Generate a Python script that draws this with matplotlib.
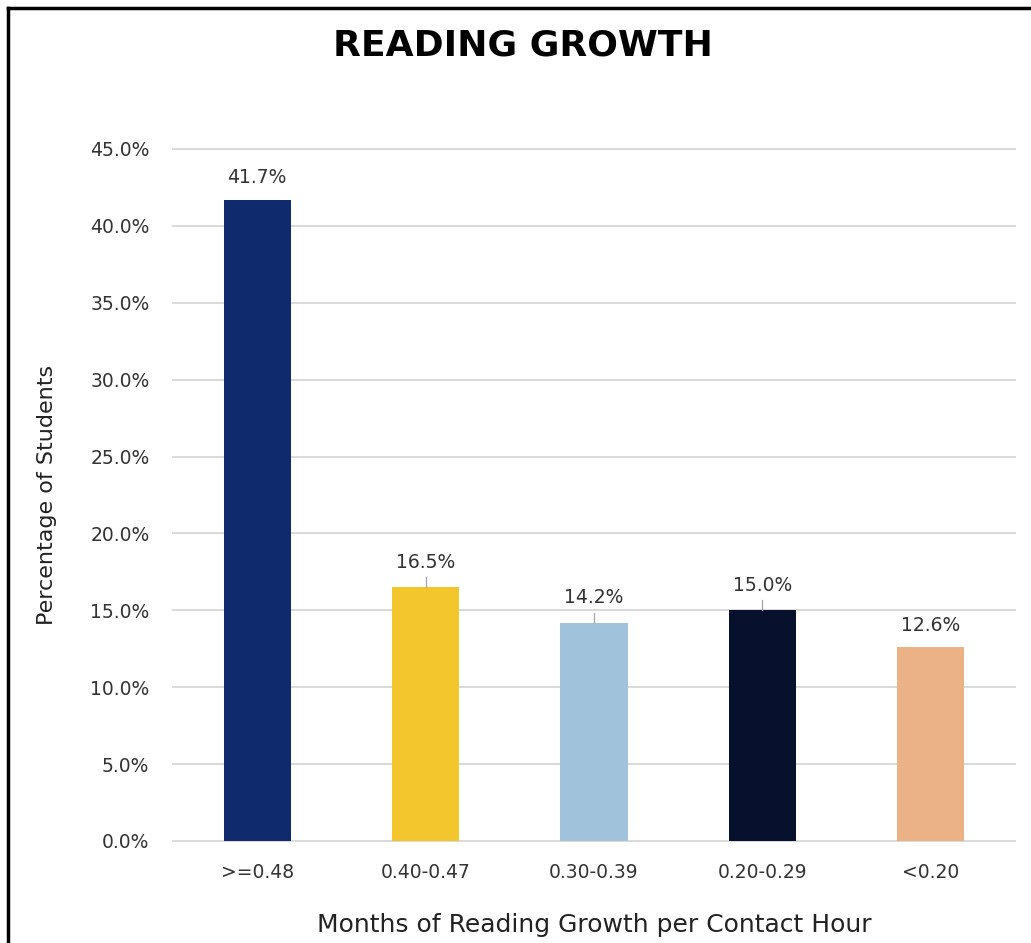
import matplotlib
matplotlib.use("Agg")
import matplotlib.pyplot as plt
from matplotlib.lines import Line2D
from matplotlib.ticker import FuncFormatter

plt.rcParams["font.family"] = ["DejaVu Sans"]

# growth bands and share of students in each
categories = [">=0.48", "0.40-0.47", "0.30-0.39", "0.20-0.29", "<0.20"]
percents = [41.7, 16.5, 14.2, 15.0, 12.6]
colors = ["#102A6E", "#F4C62D", "#A0C3DB", "#07102D", "#EBB286"]
leader = [False, True, True, True, False]

W, H = 1031, 943
fig = plt.figure(figsize=(W / 100, H / 100), dpi=100)
ax = fig.add_axes([173 / W, (H - 841) / H, (1015 - 173) / W, (841 - 149) / H])

x = range(len(categories))
ax.bar(x, percents, width=0.40, color=colors, zorder=3)
ax.set_xlim(-0.5, len(categories) - 0.5)
ax.set_ylim(0, 45)
ax.set_yticks([i * 5 for i in range(10)])
ax.yaxis.set_major_formatter(FuncFormatter(lambda v, _: f"{v:.1f}%"))
ax.set_xticks(list(x))
ax.set_xticklabels(categories)
ax.tick_params(length=0, labelsize=13.5, colors="#333333")
ax.tick_params(axis="y", pad=17)
ax.tick_params(axis="x", pad=16)
ax.grid(axis="y", color="#D9D9D9", lw=1.4, zorder=0)
for gl in ax.get_ygridlines():
    gl.set_clip_on(False)
for s in ax.spines.values():
    s.set_visible(False)

for i, (v, show) in enumerate(zip(percents, leader)):
    off = 1.0 if show else 0.8
    ax.text(i, v + off, f"{v:.1f}%", ha="center", va="bottom",
            fontsize=13.5, color="#333333")
    if show:
        ax.plot([i, i], [v, v + 0.65], color="#A6A6A6", lw=0.9, zorder=4)

ax.set_ylabel("Percentage of Students", fontsize=16, color="#222222", labelpad=24)
ax.set_xlabel("Months of Reading Growth per Contact Hour", fontsize=18,
              color="#222222", labelpad=22)
fig.text(523 / W, 1 - 46 / H, "READING GROWTH", ha="center", va="center",
         fontsize=26, fontweight="bold", color="black")

# frame on the top and left edges
fig.add_artist(Line2D([8 / W, 8 / W], [0, 1 - 8 / H], transform=fig.transFigure,
                      color="black", lw=2.5))
fig.add_artist(Line2D([8 / W, 1], [1 - 8 / H, 1 - 8 / H], transform=fig.transFigure,
                      color="black", lw=2.5))

fig.savefig("out.png", dpi=100, facecolor="white")
